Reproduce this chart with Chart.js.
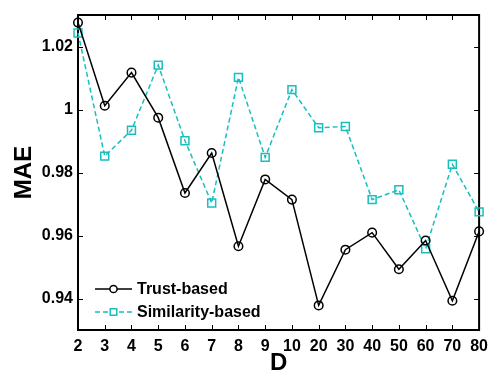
<!DOCTYPE html>
<html>
<head>
<meta charset="utf-8">
<script src="https://cdn.jsdelivr.net/npm/chart.js@4.4.1/dist/chart.umd.min.js"></script>
<style>
html, body { margin: 0; padding: 0; background: #fff; }
</style>
</head>
<body>
<canvas id="maeChart" width="495" height="378"></canvas>
<script>
// values
var categories = ['2', '3', '4', '5', '6', '7', '8', '9', '10', '20', '30', '40', '50', '60', '70', '80'];
var trustBased = [1.0276, 1.0012, 1.0117, 0.9974, 0.9735, 0.9862, 0.9566, 0.9778, 0.9714, 0.9378, 0.9555, 0.9609, 0.9493, 0.9584, 0.9393, 0.9613];
var similarityBased = [1.0243, 0.9852, 0.9934, 1.0141, 0.9901, 0.9703, 1.0102, 0.9848, 1.0063, 0.9942, 0.9946, 0.9714, 0.9745, 0.9558, 0.9826, 0.9675];
var yTicks = [0.94, 0.96, 0.98, 1, 1.02];
var yTickLabels = ['0.94', '0.96', '0.98', '1', '1.02'];

var FONT = "'Liberation Sans', Arial, Helvetica, sans-serif";
var CYAN = '#17bfbf';

// matlab style box with inward ticks
var boxPlugin = {
    id: 'boxPlugin',
    beforeDatasetsDraw: function(chart){
        var ctx = chart.ctx;
        var a = chart.chartArea;
        var xs = chart.scales.x, ys = chart.scales.y;
        var tl = 5;
        ctx.save();
        ctx.strokeStyle = '#000';
        ctx.lineWidth = 1;
        ctx.beginPath();
        for (var i = 0; i < xs.ticks.length; i++) {
            var px = Math.round(xs.getPixelForTick(i)) + 0.5;
            ctx.moveTo(px, a.bottom); ctx.lineTo(px, a.bottom - tl);
            ctx.moveTo(px, a.top); ctx.lineTo(px, a.top + tl);
        }
        for (var j = 0; j < ys.ticks.length; j++) {
            var py = Math.round(ys.getPixelForTick(j)) + 0.5;
            ctx.moveTo(a.left, py); ctx.lineTo(a.left + tl, py);
            ctx.moveTo(a.right, py); ctx.lineTo(a.right - tl, py);
        }
        ctx.stroke();
        ctx.lineWidth = 2;
        ctx.strokeRect(a.left, a.top, a.right - a.left, a.bottom - a.top);
        ctx.restore();
    },
    afterDraw: function(chart){
        var ctx = chart.ctx;
        var x0 = 95, x1 = 132, tx = 137;
        var rows = [289, 312];
        ctx.save();
        chart.data.datasets.forEach(function(ds, k){
            var y = rows[k];
            ctx.strokeStyle = ds.borderColor;
            ctx.lineWidth = ds.borderWidth;
            ctx.setLineDash(ds.borderDash || []);
            ctx.beginPath();
            ctx.moveTo(x0, y); ctx.lineTo(x1, y);
            ctx.stroke();
            ctx.setLineDash([]);
            ctx.fillStyle = '#fff';
            ctx.strokeStyle = ds.pointBorderColor;
            ctx.lineWidth = ds.pointBorderWidth;
            Chart.helpers.drawPoint(ctx, {
                pointStyle: ds.pointStyle,
                radius: ds.pointStyle === 'rect' ? 4.6 : 3.6,
                borderWidth: ds.pointBorderWidth
            }, (x0 + x1) / 2, y);
            ctx.fillStyle = '#000';
            ctx.font = 'bold 16px ' + FONT;
            ctx.textAlign = 'left';
            ctx.textBaseline = 'middle';
            ctx.fillText(ds.label, tx, y + 1);
        });
        ctx.restore();
    }
};

new Chart(document.getElementById('maeChart'), {
    type: 'line',
    data: {
        labels: categories,
        datasets: [{
            label: 'Trust-based',
            data: trustBased,
            borderColor: '#000',
            borderWidth: 1.5,
            pointStyle: 'circle',
            pointRadius: 4.3,
            pointBorderWidth: 1.5,
            pointBorderColor: '#000',
            pointBackgroundColor: 'rgba(255,255,255,0)',
            tension: 0,
            clip: false
        }, {
            label: 'Similarity-based',
            data: similarityBased,
            borderColor: CYAN,
            borderWidth: 1.5,
            borderDash: [5, 3],
            pointStyle: 'rect',
            pointRadius: 5.6,
            pointBorderWidth: 1.5,
            pointBorderColor: CYAN,
            pointBackgroundColor: 'rgba(255,255,255,0)',
            tension: 0,
            clip: false
        }]
    },
    options: {
        responsive: false,
        animation: false,
        devicePixelRatio: 1,
        layout: { padding: { left: 0, right: 12, top: 15, bottom: 0 } },
        plugins: {
            legend: { display: false },
            tooltip: { enabled: false }
        },
        scales: {
            x: {
                type: 'category',
                offset: false,
                grid: { display: false, drawTicks: false },
                border: { display: false },
                ticks: {
                    color: '#000',
                    padding: 7,
                    maxRotation: 0,
                    autoSkip: false,
                    font: { family: FONT, size: 16, weight: 'bold' }
                },
                title: {
                    display: true,
                    text: 'D',
                    color: '#000',
                    padding: { top: 0, bottom: 0 },
                    font: { family: FONT, size: 24, weight: 'bold' }
                },
                afterFit: function(scale){ scale.height = 48; }
            },
            y: {
                min: 0.93,
                max: 1.03,
                grid: { display: false, drawTicks: false },
                border: { display: false },
                afterBuildTicks: function(scale){
                    scale.ticks = yTicks.map(function(v){ return { value: v }; });
                },
                ticks: {
                    color: '#000',
                    padding: 5,
                    font: { family: FONT, size: 16, weight: 'bold' },
                    callback: function(value, index){ return yTickLabels[index]; }
                },
                title: {
                    display: true,
                    text: 'MAE',
                    color: '#000',
                    padding: { top: 10, bottom: 0 },
                    font: { family: FONT, size: 24, weight: 'bold' }
                },
                afterFit: function(scale){ scale.width = 78; }
            }
        }
    },
    plugins: [boxPlugin]
});
</script>
</body>
</html>
